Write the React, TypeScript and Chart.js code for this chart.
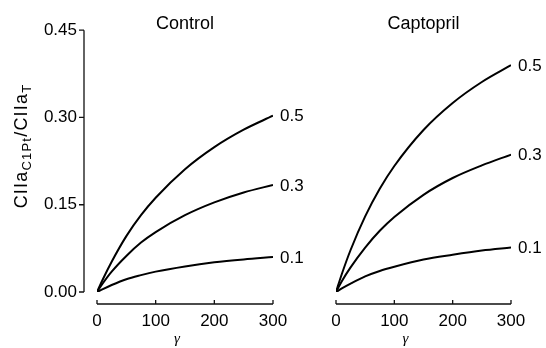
import React, { useEffect, useRef } from "react";
import { Chart, registerables } from "chart.js";
Chart.register(...registerables);

// gamma (x) values
const gamma = [0, 10, 25, 50, 75, 100, 150, 200, 250, 300];
// Control panel curves
const control05 = [0, 0.022, 0.052, 0.096, 0.132, 0.162, 0.211, 0.249, 0.279, 0.303];
const control03 = [0, 0.015, 0.035, 0.062, 0.085, 0.103, 0.132, 0.154, 0.171, 0.184];
const control01 = [0, 0.005, 0.012, 0.022, 0.029, 0.035, 0.044, 0.051, 0.056, 0.060];
// Captopril panel curves
const capto05 = [0, 0.030, 0.070, 0.126, 0.172, 0.210, 0.270, 0.315, 0.350, 0.378];
const capto03 = [0, 0.018, 0.041, 0.074, 0.102, 0.125, 0.162, 0.190, 0.211, 0.229];
const capto01 = [0, 0.006, 0.014, 0.026, 0.035, 0.042, 0.054, 0.062, 0.069, 0.074];
const curveLabels = ["0.5", "0.3", "0.1"];
const panelTitles = ["Control", "Captopril"];
const xTicks = [0, 100, 200, 300];
const yTicks = [0, 0.15, 0.3, 0.45];

const FONT = '"Liberation Sans", Arial, sans-serif';

function makePlugin(title: string, showY: boolean, gammaOffset: number) {
  return {
    id: "custom_" + title,
    afterDraw(chart: any) {
      const { ctx, chartArea } = chart;
      const x = chart.scales.x;
      const y = chart.scales.y;
      ctx.save();
      ctx.strokeStyle = "#111";
      ctx.lineWidth = 1.3;
      ctx.beginPath();
      const axY = y.getPixelForValue(0) + 12;
      ctx.moveTo(x.getPixelForValue(xTicks[0]), axY);
      ctx.lineTo(x.getPixelForValue(xTicks[xTicks.length - 1]), axY);
      xTicks.forEach((v) => {
        const px = x.getPixelForValue(v);
        ctx.moveTo(px, axY);
        ctx.lineTo(px, axY - 4);
      });
      if (showY) {
        const axX = x.getPixelForValue(0) - 13;
        ctx.moveTo(axX, y.getPixelForValue(yTicks[0]));
        ctx.lineTo(axX, y.getPixelForValue(yTicks[yTicks.length - 1]));
        yTicks.forEach((v) => {
          const py = y.getPixelForValue(v);
          ctx.moveTo(axX, py);
          ctx.lineTo(axX - 5, py);
        });
      }
      ctx.stroke();

      ctx.fillStyle = "#000";
      // panel title
      ctx.font = `18px ${FONT}`;
      ctx.textAlign = "center";
      ctx.textBaseline = "middle";
      ctx.fillText(title, (chartArea.left + chartArea.right) / 2, 24);

      // curve end labels
      ctx.font = `17px ${FONT}`;
      ctx.textAlign = "left";
      chart.data.datasets.forEach((ds: any, i: number) => {
        const meta = chart.getDatasetMeta(i);
        const pt = meta.data[meta.data.length - 1];
        ctx.fillText(curveLabels[i], pt.x + 7, pt.y + 1);
      });

      // x title gamma
      ctx.font = 'italic 15px "Liberation Serif", "DejaVu Serif", serif';
      ctx.textAlign = "center";
      ctx.fillText("γ", (chartArea.left + chartArea.right) / 2 + gammaOffset, 339);

      // y title with subscripts
      if (showY) {
        const parts = [
          { t: "CIIa", sub: false },
          { t: "C1Pt", sub: true },
          { t: "/CIIa", sub: false },
          { t: "T", sub: true },
        ];
        const mainF = `18px ${FONT}`;
        const subF = `13px ${FONT}`;
        (ctx as any).letterSpacing = "1.2px";
        let total = 0;
        parts.forEach((p) => {
          ctx.font = p.sub ? subF : mainF;
          total += ctx.measureText(p.t).width;
        });
        ctx.translate(21, 146);
        ctx.rotate(-Math.PI / 2);
        ctx.textAlign = "left";
        ctx.textBaseline = "alphabetic";
        let cx = -total / 2;
        parts.forEach((p) => {
          ctx.font = p.sub ? subF : mainF;
          ctx.fillText(p.t, cx, p.sub ? 10 : 6);
          cx += ctx.measureText(p.t).width;
        });
      }
      ctx.restore();
    },
  };
}

function buildConfig(series: number[][], title: string, showY: boolean, padding: any, gammaOffset: number) {
  return {
    type: "line" as const,
    data: {
      datasets: series.map((s) => ({
        data: gamma.map((g, i) => ({ x: g, y: s[i] })),
        borderColor: "#000",
        borderWidth: 2,
        pointRadius: 0,
        fill: false,
        cubicInterpolationMode: "monotone" as const,
      })),
    },
    options: {
      animation: false as const,
      responsive: false,
      events: [],
      layout: { padding },
      plugins: {
        legend: { display: false },
        tooltip: { enabled: false },
        title: { display: false },
      },
      scales: {
        x: {
          type: "linear" as const,
          min: 0,
          max: 300,
          afterBuildTicks: (s: any) => {
            s.ticks = xTicks.map((v) => ({ value: v }));
          },
          afterFit: (s: any) => {
            s.height = 40;
          },
          grid: { display: false, drawTicks: false },
          border: { display: false },
          ticks: {
            padding: 19,
            color: "#000",
            maxRotation: 0,
            font: { family: FONT, size: 17 },
            callback: (v: any) => String(v),
          },
        },
        y: {
          type: "linear" as const,
          display: showY,
          min: 0,
          max: 0.45,
          afterBuildTicks: (s: any) => {
            s.ticks = yTicks.map((v) => ({ value: v }));
          },
          afterFit: (s: any) => {
            s.width = showY ? 70 : 0;
          },
          grid: { display: false, drawTicks: false },
          border: { display: false },
          ticks: {
            padding: 20,
            color: "#000",
            font: { family: FONT, size: 17 },
            callback: (v: any) => Number(v).toFixed(2),
          },
        },
      },
    },
    plugins: [makePlugin(title, showY, gammaOffset)],
  };
}

export default function App() {
  const leftRef = useRef<HTMLCanvasElement>(null);
  const rightRef = useRef<HTMLCanvasElement>(null);

  useEffect(() => {
    const c1 = new Chart(
      leftRef.current as HTMLCanvasElement,
      buildConfig([control05, control03, control01], panelTitles[0], true, { left: 27, right: 273, top: 22, bottom: 16 }, -8) as any
    );
    const c2 = new Chart(
      rightRef.current as HTMLCanvasElement,
      buildConfig([capto05, capto03, capto01], panelTitles[1], false, { left: 336, right: 35, top: 22, bottom: 16 }, -18) as any
    );
    return () => {
      c1.destroy();
      c2.destroy();
    };
  }, []);

  const canvasStyle: React.CSSProperties = { position: "absolute", left: 0, top: 0, width: 546, height: 348 };
  return (
    <div style={{ position: "fixed", left: 0, top: 0, width: 546, height: 348, background: "#fff" }}>
      <canvas ref={leftRef} width={546} height={348} style={canvasStyle} />
      <canvas ref={rightRef} width={546} height={348} style={canvasStyle} />
    </div>
  );
}
